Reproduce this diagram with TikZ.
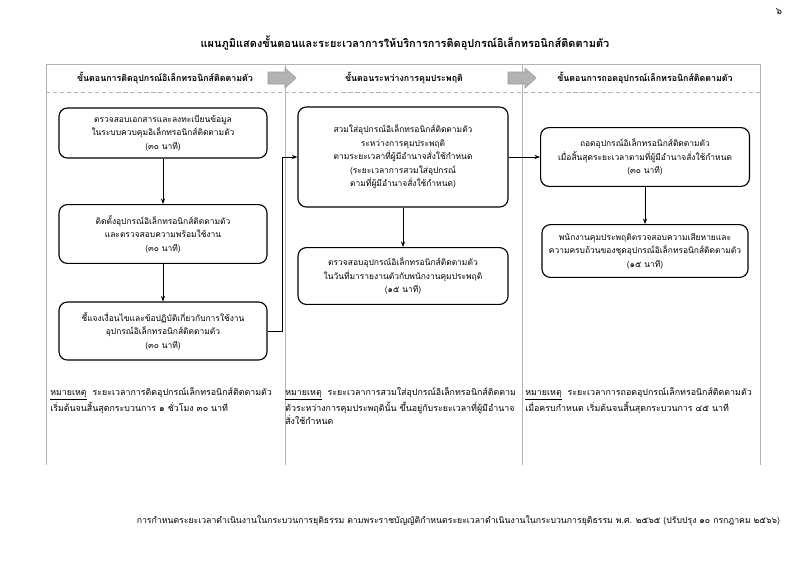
\documentclass[tikz,border=0pt]{standalone}
\usepackage{fontspec}
\setmainfont{Loma}[Script=Thai]
\usetikzlibrary{arrows.meta,positioning,calc}

\begin{document}
\begin{tikzpicture}[x=0.025cm,y=-0.025cm,
    stagebox/.style={draw,thick,rounded corners=6pt,align=center,inner sep=2pt,
        font=\fontsize{6}{9.6}\selectfont},
    flow/.style={-{Stealth[length=4pt,width=3pt]},semithick},
    frame/.style={gray!60,thin},
    hdr/.style={font=\bfseries\fontsize{6.3}{8}\selectfont},
    remark/.style={anchor=north west,align=left,inner sep=0pt,
        font=\fontsize{6.3}{9.2}\selectfont}]
\useasboundingbox (0,0) rectangle (800,561);

% Title and page number
\node[font=\bfseries\fontsize{7.8}{9}\selectfont] (title) at (405,43)
    {แผนภูมิแสดงขั้นตอนและระยะเวลาการให้บริการการติดอุปกรณ์อิเล็กทรอนิกส์ติดตามตัว};
\node[font=\fontsize{7}{8}\selectfont] (page) at (779,12) {๖};

% Table frame
\draw[frame] (46,64) -- (760,64);
\draw[frame, densely dashed] (46,92) -- (760,92);
\foreach \cx in {46,285,522,760} {
    \draw[frame] (\cx,64) -- (\cx,465);
}

% Column headers
\node[hdr] (h1) at (165,78) {ขั้นตอนการติดอุปกรณ์อิเล็กทรอนิกส์ติดตามตัว};
\node[hdr] (h2) at (404,78) {ขั้นตอนระหว่างการคุมประพฤติ};
\node[hdr] (h3) at (645,78) {ขั้นตอนการถอดอุปกรณ์เล็กทรอนิกส์ติดตามตัว};

% Block arrows between headers
\foreach \ax in {268,508} {
    \filldraw[draw=gray!80, fill=gray!60] (\ax,72) -- ++(17,0) -- ++(0,-4)
        -- ++(11,10) -- ++(-11,10) -- ++(0,-4) -- ++(-17,0) -- cycle;
}

% Fitting the device
\node[stagebox, minimum width=5.2cm, minimum height=1.25cm] (check) at (163,133)
    {ตรวจสอบเอกสารและลงทะเบียนข้อมูล\\ ในระบบควบคุมอิเล็กทรอนิกส์ติดตามตัว\\ (๓๐ นาที)};
\node[stagebox, minimum width=5.2cm, minimum height=1.47cm] (install) at (163,234)
    {ติดตั้งอุปกรณ์อิเล็กทรอนิกส์ติดตามตัว\\ และตรวจสอบความพร้อมใช้งาน\\ (๓๐ นาที)};
\node[stagebox, minimum width=5.2cm, minimum height=1.45cm] (brief) at (163,331)
    {ชี้แจงเงื่อนไขและข้อปฏิบัติเกี่ยวกับการใช้งาน\\ อุปกรณ์อิเล็กทรอนิกส์ติดตามตัว\\ (๓๐ นาที)};

% During probation
\node[stagebox, minimum width=5.25cm, minimum height=2.5cm] (wear) at (403,157)
    {สวมใส่อุปกรณ์อิเล็กทรอนิกส์ติดตามตัว\\ ระหว่างการคุมประพฤติ\\
     ตามระยะเวลาที่ผู้มีอำนาจสั่งใช้กำหนด\\ (ระยะเวลาการสวมใส่อุปกรณ์\\
     ตามที่ผู้มีอำนาจสั่งใช้กำหนด)};
\node[stagebox, minimum width=5.25cm, minimum height=1.42cm] (inspect) at (403,276)
    {ตรวจสอบอุปกรณ์อิเล็กทรอนิกส์ติดตามตัว\\ ในวันที่มารายงานตัวกับพนักงานคุมประพฤติ\\ (๑๕ นาที)};

% Removing the device
\node[stagebox, minimum width=5.22cm, minimum height=1.47cm] (remove) at (645,157)
    {ถอดอุปกรณ์อิเล็กทรอนิกส์ติดตามตัว\\ เมื่อสิ้นสุดระยะเวลาตามที่ผู้มีอำนาจสั่งใช้กำหนด\\ (๓๐ นาที)};
\node[stagebox, minimum width=5.15cm, minimum height=1.32cm] (damage) at (645,251)
    {พนักงานคุมประพฤติตรวจสอบความเสียหายและ\\ ความครบถ้วนของชุดอุปกรณ์อิเล็กทรอนิกส์ติดตามตัว\\ (๑๕ นาที)};

% Connectors
\draw[flow] (check) -- (install);
\draw[flow] (install) -- (brief);
\draw[flow] (brief.east) -- ++(15,0) |- (wear.west);
\draw[flow] (wear) -- (inspect);
\draw[flow] (wear.east) -- (remove.west);
\draw[flow] (remove) -- (damage);

% Remarks
\node[remark] (r1) at (50,387) {\underline{หมายเหตุ}\ \ ระยะเวลาการติดอุปกรณ์เล็กทรอนิกส์ติดตามตัว\\
    เริ่มต้นจนสิ้นสุดกระบวนการ ๑ ชั่วโมง ๓๐ นาที};
\node[remark] (r2) at (285,387) {\underline{หมายเหตุ}\ \ ระยะเวลาการสวมใส่อุปกรณ์อิเล็กทรอนิกส์ติดตาม\\
    ตัวระหว่างการคุมประพฤตินั้น ขึ้นอยู่กับระยะเวลาที่ผู้มีอำนาจ\\ สั่งใช้กำหนด};
\node[remark] (r3) at (525,387) {\underline{หมายเหตุ}\ \ ระยะเวลาการถอดอุปกรณ์เล็กทรอนิกส์ติดตามตัว\\
    เมื่อครบกำหนด เริ่มต้นจนสิ้นสุดกระบวนการ ๔๕ นาที};

% Footer
\node[anchor=east, font=\fontsize{6.2}{7}\selectfont] (source) at (785,521)
    {การกำหนดระยะเวลาดำเนินงานในกระบวนการยุติธรรม ตามพระราชบัญญัติกำหนดระยะเวลาดำเนินงานในกระบวนการยุติธรรม พ.ศ. ๒๕๖๕ (ปรับปรุง ๑๐ กรกฎาคม ๒๕๖๖)};
\end{tikzpicture}
\end{document}
